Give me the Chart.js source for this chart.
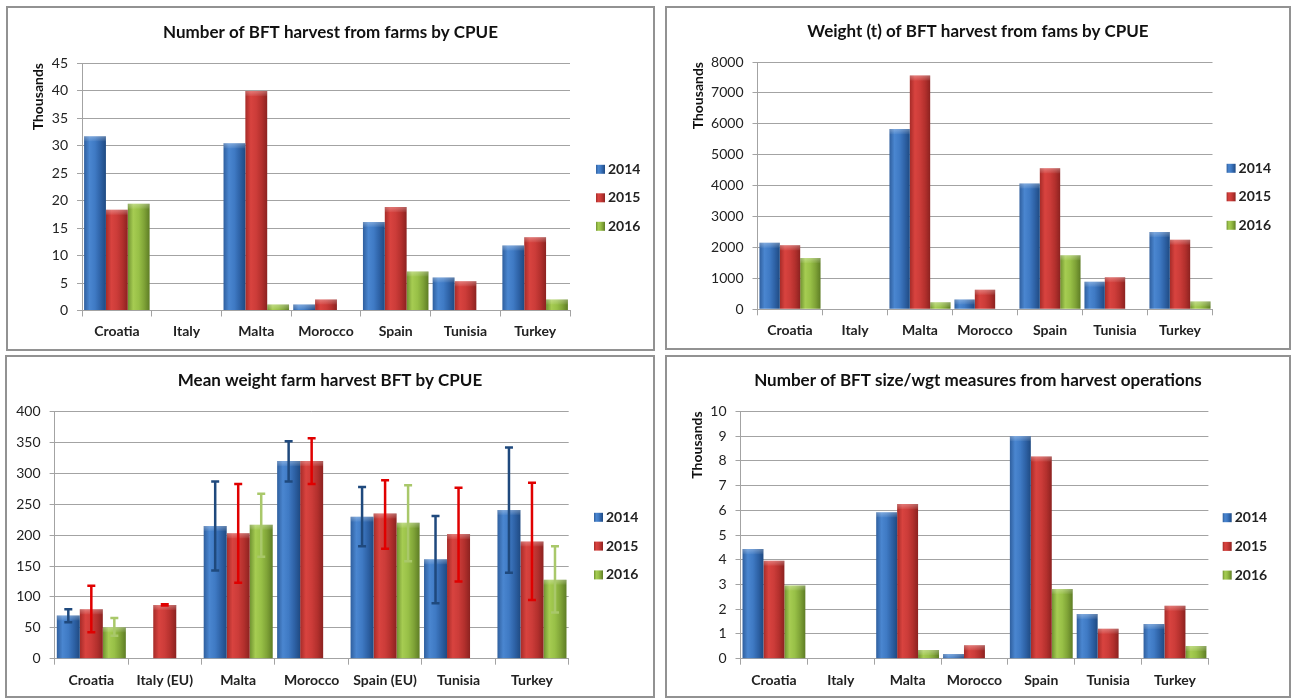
<!DOCTYPE html>
<html>
<head>
<meta charset="utf-8">
<title>BFT farm harvest by CPUE</title>
<script src="https://cdn.jsdelivr.net/npm/chart.js@4.4.1/dist/chart.umd.min.js"></script>
<style>
  html, body { margin: 0; padding: 0; background: #fff; }
  body { width: 1296px; height: 698px; position: relative; overflow: hidden; }
  .panel { position: absolute; box-sizing: border-box; border: 2px solid #929292; background: #fff; }
  .panel canvas { display: block; }
</style>
</head>
<body>
<div class="panel" style="left:6px;top:6px;width:649px;height:345px"><canvas id="numberChart" width="645" height="341"></canvas></div>
<div class="panel" style="left:665px;top:6px;width:626px;height:344px"><canvas id="weightChart" width="622" height="340"></canvas></div>
<div class="panel" style="left:5px;top:355px;width:650px;height:343px"><canvas id="meanChart" width="646" height="339"></canvas></div>
<div class="panel" style="left:665px;top:355px;width:626px;height:343px"><canvas id="measureChart" width="622" height="339"></canvas></div>

<script>
// Categories and series
const years = ['2014', '2015', '2016'];
const countries = ['Croatia', 'Italy', 'Malta', 'Morocco', 'Spain', 'Tunisia', 'Turkey'];
const countriesEU = ['Croatia', 'Italy (EU)', 'Malta', 'Morocco', 'Spain (EU)', 'Tunisia', 'Turkey'];

// Number of BFT harvested from farms (thousands)
const number2014 = [31.7, null, 30.4, 1.1, 16.1, 6.0, 11.8];
const number2015 = [18.3, 0.1, 39.9, 2.0, 18.8, 5.3, 13.3];
const number2016 = [19.4, null, 1.1, null, 7.1, null, 2.0];

// Weight (t) harvested from farms (thousands)
const weight2014 = [2150, null, 5830, 320, 4070, 890, 2500];
const weight2015 = [2070, 15, 7560, 630, 4560, 1040, 2250];
const weight2016 = [1660, null, 230, null, 1750, null, 250];

// Mean weight of harvested fish, with error bar limits
const mean2014 = [70, null, 215, 320, 230, 161, 241];
const mean2015 = [80, 87, 203, 320, 235, 202, 190];
const mean2016 = [51, null, 217, null, 220, null, 128];
const meanLow2014 = [59, null, 143, 287, 182, 90, 139];
const meanHigh2014 = [80, null, 287, 352, 278, 231, 342];
const meanLow2015 = [43, 86, 123, 283, 178, 125, 95];
const meanHigh2015 = [118, 88, 283, 357, 289, 277, 285];
const meanLow2016 = [37, null, 165, null, 158, null, 75];
const meanHigh2016 = [66, null, 267, null, 281, null, 182];

// Number of size/weight measures (thousands)
const measures2014 = [4.43, null, 5.92, 0.19, 9.0, 1.81, 1.40];
const measures2015 = [3.96, 0.02, 6.25, 0.54, 8.17, 1.21, 2.14];
const measures2016 = [2.96, null, 0.35, null, 2.82, null, 0.51];

// Look of the bars (left-to-right shading, like the 3D office style)
const shades = [
    ['#2F5F9E', '#4A86D0', '#3F7AC4', '#2E62A6', '#1F4A82'],
    ['#A62B28', '#D8433F', '#CC3C39', '#B3302D', '#8C2220'],
    ['#6F9230', '#A6CC52', '#98C047', '#7FA337', '#5E7D25']
];
const flatColors = ['#3F7AC4', '#CC3C39', '#98C047'];
const errorColors = ['#1F497D', '#E00000', '#A9C86A'];
const gridColor = '#a3a3a3';
const fontFamily = 'Lato, "Open Sans", sans-serif';
const textColor = '#222';
const titleSize = 17;

function makeGradient(ctx, left, width, stops) {
    const g = ctx.createLinearGradient(left, 0, left + width, 0);
    stops.forEach((c, k) => g.addColorStop(k / (stops.length - 1), c));
    return g;
}

// Gives each bar its own horizontal gradient and a light top face
const shadePlugin = {
    id: 'shade',
    beforeDatasetsDraw(chart) {
        const ctx = chart.ctx;
        chart.data.datasets.forEach((ds, i) => {
            chart.getDatasetMeta(i).data.forEach(bar => {
                if (!isFinite(bar.x) || !isFinite(bar.width)) return;
                const g = makeGradient(ctx, bar.x - bar.width / 2, bar.width, shades[i]);
                bar.options = Object.assign({}, bar.options, { backgroundColor: g });
            });
        });
    },
    afterDatasetsDraw(chart) {
        const ctx = chart.ctx;
        ctx.save();
        chart.data.datasets.forEach((ds, i) => {
            chart.getDatasetMeta(i).data.forEach((bar, j) => {
                if (ds.data[j] == null) return;
                const h = bar.base - bar.y;
                if (!(h > 3)) return;
                const left = bar.x - bar.width / 2;
                const capH = Math.min(5, h);
                const g = ctx.createLinearGradient(0, bar.y, 0, bar.y + capH);
                g.addColorStop(0, 'rgba(255,255,255,0.30)');
                g.addColorStop(1, 'rgba(255,255,255,0.05)');
                ctx.fillStyle = g;
                ctx.fillRect(left, bar.y, bar.width, capH);
            });
        });
        ctx.restore();
    }
};

// Vertical error bars drawn on top of each bar
function makeErrorBars(lows, highs) {
    return {
        id: 'errorBars',
        afterDatasetsDraw(chart) {
            const ctx = chart.ctx;
            const yScale = chart.scales.y;
            ctx.save();
            ctx.lineWidth = 2.5;
            chart.data.datasets.forEach((ds, i) => {
                ctx.strokeStyle = errorColors[i];
                chart.getDatasetMeta(i).data.forEach((bar, j) => {
                    if (lows[i][j] == null) return;
                    const yl = yScale.getPixelForValue(lows[i][j]);
                    const yh = yScale.getPixelForValue(highs[i][j]);
                    ctx.beginPath();
                    ctx.moveTo(bar.x, yl);
                    ctx.lineTo(bar.x, yh);
                    ctx.moveTo(bar.x - 4, yh);
                    ctx.lineTo(bar.x + 4, yh);
                    ctx.moveTo(bar.x - 4, yl);
                    ctx.lineTo(bar.x + 4, yl);
                    ctx.stroke();
                });
            });
            ctx.restore();
        }
    };
}

// Legend on the right, Excel style
function makeLegend(pos) {
    return {
        id: 'sideLegend',
        afterDraw(chart) {
            const ctx = chart.ctx;
            ctx.save();
            ctx.font = 'bold 14px ' + fontFamily;
            ctx.textBaseline = 'middle';
            chart.data.datasets.forEach((ds, i) => {
                const y = pos.y + i * pos.gap;
                ctx.fillStyle = makeGradient(ctx, pos.x, 9, shades[i]);
                ctx.fillRect(pos.x, y - 4.5, 9, 9);
                ctx.fillStyle = textColor;
                ctx.fillText(ds.label, pos.x + 12, y);
            });
            ctx.restore();
        }
    };
}

function buildChart(id, cfg) {
    const canvas = document.getElementById(id);
    const W = canvas.width, H = canvas.height;
    const a = cfg.area;
    const halfTitle = titleSize * 1.2 / 2;
    const plugins = [shadePlugin];
    if (cfg.errorLow) plugins.push(makeErrorBars(cfg.errorLow, cfg.errorHigh));
    plugins.push(makeLegend(cfg.legend));

    return new Chart(canvas, {
        type: 'bar',
        data: {
            labels: cfg.labels,
            datasets: cfg.series.map((data, i) => ({
                label: years[i],
                data: data,
                backgroundColor: flatColors[i],
                borderWidth: 0,
                barPercentage: 1,
                categoryPercentage: 0.94
            }))
        },
        options: {
            responsive: false,
            animation: false,
            devicePixelRatio: 1,
            layout: { padding: 0 },
            plugins: {
                legend: { display: false },
                tooltip: { enabled: false },
                title: {
                    display: true,
                    text: cfg.title,
                    color: '#111',
                    font: { family: fontFamily, size: titleSize, weight: 'bold', lineHeight: 1.2 },
                    padding: { top: a.titleY - halfTitle, bottom: a.top - a.titleY - halfTitle }
                }
            },
            scales: {
                x: {
                    grid: { drawOnChartArea: false, drawTicks: true, tickLength: 6, color: gridColor, offset: true },
                    border: { color: gridColor },
                    ticks: {
                        color: textColor,
                        font: { family: fontFamily, size: 14, weight: 'bold', lineHeight: 1.2 },
                        padding: a.labelY - a.bottom - 6 - 8.4,
                        maxRotation: 0,
                        autoSkip: false
                    },
                    afterFit: s => { s.height = H - a.bottom; }
                },
                y: {
                    min: 0,
                    max: cfg.max,
                    ticks: {
                        stepSize: cfg.step,
                        padding: 9,
                        color: textColor,
                        font: { family: fontFamily, size: 14 },
                        callback: v => String(v)
                    },
                    grid: { color: gridColor, tickLength: 5 },
                    border: { color: gridColor },
                    title: cfg.yTitle ? {
                        display: true,
                        text: cfg.yTitle,
                        align: 'end',
                        color: '#111',
                        font: { family: fontFamily, size: 14, weight: 'bold', lineHeight: 1.2 },
                        padding: { top: a.yTitleX - 8.4, bottom: 0 }
                    } : { display: false },
                    afterFit: s => { s.width = a.left; }
                },
                // empty axis that keeps room for the legend on the right
                pad: {
                    type: 'linear',
                    position: 'right',
                    grid: { display: false },
                    ticks: { display: false },
                    border: { display: false },
                    afterFit: s => { s.width = W - a.right; }
                }
            }
        },
        plugins: plugins
    });
}

function drawAll() {
    buildChart('numberChart', {
        title: 'Number of BFT harvest from farms by CPUE',
        labels: countries,
        series: [number2014, number2015, number2016],
        max: 45, step: 5,
        yTitle: 'Thousands',
        area: { left: 74, top: 55, right: 562, bottom: 302.5, titleY: 24.3, labelY: 323.3, yTitleX: 30 },
        legend: { x: 588, y: 161.3, gap: 28.5 }
    });

    buildChart('weightChart', {
        title: 'Weight (t) of BFT harvest from fams by CPUE',
        labels: countries,
        series: [weight2014, weight2015, weight2016],
        max: 8000, step: 1000,
        yTitle: 'Thousands',
        area: { left: 90.5, top: 54, right: 545.5, bottom: 301.3, titleY: 23.7, labelY: 322.5, yTitleX: 31 },
        legend: { x: 559.6, y: 160.3, gap: 28.5 }
    });

    buildChart('meanChart', {
        title: 'Mean weight farm harvest BFT by CPUE',
        labels: countriesEU,
        series: [mean2014, mean2015, mean2016],
        errorLow: [meanLow2014, meanLow2015, meanLow2016],
        errorHigh: [meanHigh2014, meanHigh2015, meanHigh2016],
        max: 400, step: 50,
        area: { left: 47.6, top: 54.7, right: 561.7, bottom: 301.7, titleY: 23.7, labelY: 323, yTitleX: 0 },
        legend: { x: 587, y: 160.3, gap: 28.8 }
    });

    buildChart('measureChart', {
        title: 'Number of BFT size/wgt measures from harvest operations',
        labels: countries,
        series: [measures2014, measures2015, measures2016],
        max: 10, step: 1,
        yTitle: 'Thousands',
        area: { left: 73.5, top: 54.3, right: 541.4, bottom: 301.7, titleY: 23.7, labelY: 323, yTitleX: 30.8 },
        legend: { x: 555.7, y: 160.7, gap: 28.7 }
    });
}

document.addEventListener('DOMContentLoaded', () => {
    // make sure the installed fonts are ready before drawing on canvas
    Promise.all([
        document.fonts.load('bold 17px Lato'),
        document.fonts.load('14px Lato')
    ]).then(drawAll, drawAll);
});
</script>
</body>
</html>
